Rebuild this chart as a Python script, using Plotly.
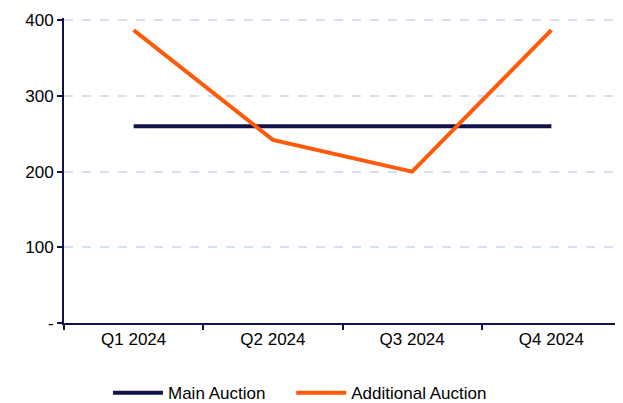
import plotly.graph_objects as go

quarters = ["Q1 2024", "Q2 2024", "Q3 2024", "Q4 2024"]
main_auction = [260, 260, 260, 260]
additional_auction = [387, 242, 200, 387]
y_ticks = [0, 100, 200, 300, 400]
y_tick_labels = ["-", "100", "200", "300", "400"]

navy = "#12124a"
orange = "#ff5a0a"

fig = go.Figure()
fig.add_trace(go.Scatter(x=quarters, y=main_auction, name="Main Auction",
                         mode="lines", line=dict(color=navy, width=4), legend="legend"))
fig.add_trace(go.Scatter(x=quarters, y=additional_auction, name="Additional Auction",
                         mode="lines", line=dict(color=orange, width=4), legend="legend2"))

legend_style = dict(orientation="h", y=-0.23, yanchor="middle", xanchor="left",
                    font=dict(size=17), itemwidth=50)

# the page body adds an 8px offset, so the figure is sized to fit the window
fig.update_layout(
    width=615, height=395,
    margin=dict(l=56, r=2, t=10, b=80, autoexpand=False),
    plot_bgcolor="white", paper_bgcolor="white",
    font=dict(family="Liberation Sans, Arial", size=17, color="#000000"),
    showlegend=True,
    legend=dict(x=0.079, **legend_style),
    legend2=dict(x=0.408, **legend_style),
)
fig.update_xaxes(
    showline=True, linecolor=navy, linewidth=2,
    ticks="outside", tickson="boundaries", ticklen=5, tickcolor=navy, tickwidth=2,
    showgrid=False, range=[-0.5, 3.5], automargin=False,
)
fig.update_yaxes(
    range=[0, 403], tickvals=y_ticks, ticktext=y_tick_labels,
    showline=True, linecolor=navy, linewidth=2,
    ticks="outside", ticklen=5, tickcolor=navy, tickwidth=2,
    showgrid=True, gridcolor="#d6e0f5", griddash="dash", gridwidth=1.5,
    zeroline=False, automargin=False,
)

fig.write_html("out.html")
